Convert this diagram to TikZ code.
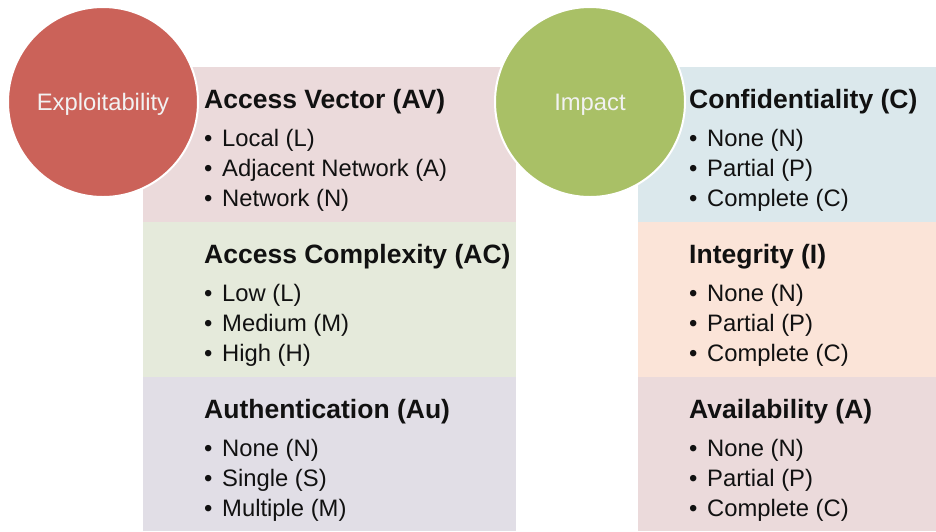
\documentclass[tikz,border=0pt]{standalone}
\usepackage{fontspec}
\setmainfont{Liberation Sans}
\definecolor{redcirc}{HTML}{CB6259}
\definecolor{greencirc}{HTML}{A9C066}
\definecolor{avfill}{HTML}{EBDADB}
\definecolor{acfill}{HTML}{E5EADB}
\definecolor{aufill}{HTML}{E1DEE6}
\definecolor{cfill}{HTML}{DBE8EC}
\definecolor{ifill}{HTML}{FBE4D8}
\definecolor{afill}{HTML}{EBDADB}
\definecolor{txt}{HTML}{111111}
\tikzset{
  panel/.style={draw=none, minimum width=#1, inner sep=0pt, anchor=north west},
  head/.style={anchor=base west, inner sep=0pt, text=txt,
    font=\fontsize{26.5}{31}\selectfont\bfseries},
  item/.style={anchor=base west, inner sep=0pt, text=txt,
    font=\fontsize{23.8}{28}\selectfont},
  badge/.style={circle, minimum size=190pt, inner sep=0pt, draw=white,
    line width=2pt, text=white!95!black, text height=17pt, text depth=0pt,
    font=\fontsize{23.8}{28}\selectfont}
}
\newcommand{\bul}{\makebox[18pt][l]{•}}
\begin{document}
\begin{tikzpicture}[x=1pt,y=-1pt]
\useasboundingbox (0,0) rectangle (936,531);
\fill[white] (0,0) rectangle (936,531);

% left column panels
\node[panel=373pt, minimum height=155pt, fill=avfill] (av) at (143,67) {};
\node[panel=373pt, minimum height=155pt, fill=acfill] (ac) at (143,222) {};
\node[panel=373pt, minimum height=154pt, fill=aufill] (au) at (143,377) {};
% right column panels
\node[panel=298pt, minimum height=155pt, fill=cfill] (cp) at (638,67) {};
\node[panel=298pt, minimum height=155pt, fill=ifill] (ip) at (638,222) {};
\node[panel=298pt, minimum height=154pt, fill=afill] (ap) at (638,377) {};

% left column texts
\node[head] (avh) at (204,108) {Access Vector (AV)};
\node[item] (av1) at (204,146) {\bul Local (L)};
\node[item] (av2) at (204,176) {\bul Adjacent Network (A)};
\node[item] (av3) at (204,206) {\bul Network (N)};

\node[head] (ach) at (204,263) {Access Complexity (AC)};
\node[item] (ac1) at (204,301) {\bul Low (L)};
\node[item] (ac2) at (204,331) {\bul Medium (M)};
\node[item] (ac3) at (204,361) {\bul High (H)};

\node[head] (auh) at (204,418) {Authentication (Au)};
\node[item] (au1) at (204,456) {\bul None (N)};
\node[item] (au2) at (204,486) {\bul Single (S)};
\node[item] (au3) at (204,516) {\bul Multiple (M)};

% right column texts
\node[head] (ch) at (689,108) {Confidentiality (C)};
\node[item] (c1) at (689,146) {\bul None (N)};
\node[item] (c2) at (689,176) {\bul Partial (P)};
\node[item] (c3) at (689,206) {\bul Complete (C)};

\node[head] (ih) at (689,263) {Integrity (I)};
\node[item] (i1) at (689,301) {\bul None (N)};
\node[item] (i2) at (689,331) {\bul Partial (P)};
\node[item] (i3) at (689,361) {\bul Complete (C)};

\node[head] (ah) at (689,418) {Availability (A)};
\node[item] (a1) at (689,456) {\bul None (N)};
\node[item] (a2) at (689,486) {\bul Partial (P)};
\node[item] (a3) at (689,516) {\bul Complete (C)};

% category badges
\node[badge, fill=redcirc] (expl) at (103,102) {Exploitability};
\node[badge, fill=greencirc] (imp) at (590,102) {Impact};
\end{tikzpicture}
\end{document}
